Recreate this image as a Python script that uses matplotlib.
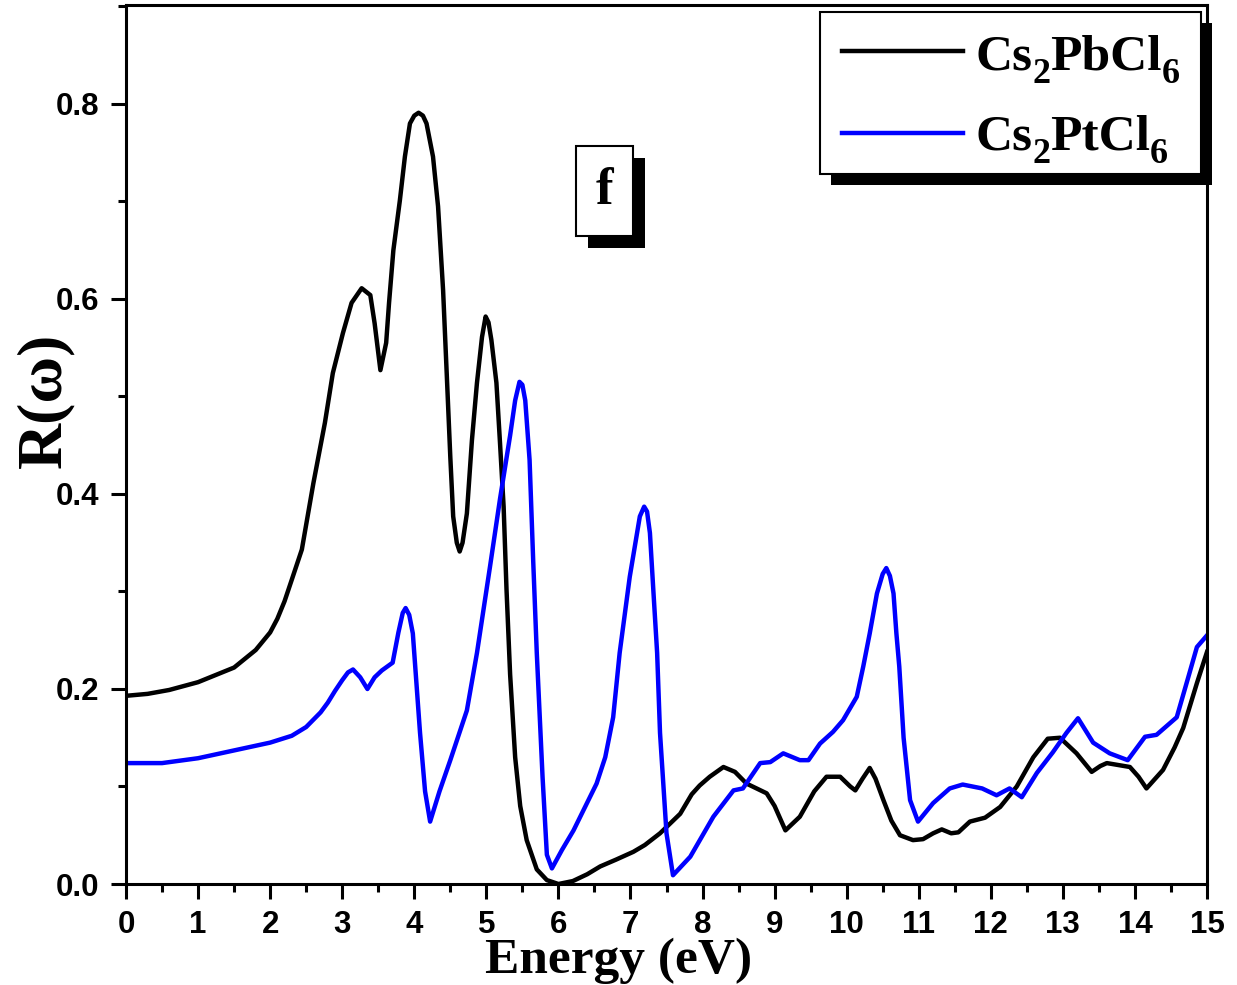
import matplotlib
matplotlib.use("Agg")
import matplotlib.pyplot as plt
from matplotlib.patches import Rectangle
from matplotlib.lines import Line2D
from matplotlib.ticker import MultipleLocator

# reflectivity R(w) vs photon energy
e_pb = [0.0, 0.3, 0.6, 1.0, 1.5, 1.8, 2.0, 2.1, 2.2, 2.3, 2.44, 2.6, 2.76, 2.87, 3.01, 3.13,
        3.27, 3.39, 3.45, 3.53, 3.61, 3.65, 3.71, 3.8, 3.87, 3.94, 4.0, 4.06, 4.12, 4.17,
        4.26, 4.33, 4.4, 4.45, 4.5, 4.54, 4.59, 4.63, 4.67, 4.73, 4.8, 4.87, 4.94, 4.99,
        5.03, 5.07, 5.14, 5.19, 5.24, 5.28, 5.33, 5.4, 5.47, 5.56, 5.7, 5.84, 6.0, 6.2,
        6.4, 6.58, 6.8, 7.04, 7.2, 7.41, 7.69, 7.85, 7.96, 8.1, 8.29, 8.45, 8.61, 8.75,
        8.89, 9.0, 9.15, 9.35, 9.55, 9.72, 9.91, 10.05, 10.12, 10.22, 10.32, 10.4, 10.51,
        10.62, 10.74, 10.92, 11.06, 11.2, 11.32, 11.45, 11.55, 11.71, 11.92, 12.13, 12.36,
        12.59, 12.79, 12.96, 13.19, 13.4, 13.52, 13.61, 13.93, 14.05, 14.16, 14.39, 14.55,
        14.67, 14.86, 15.0]
r_pb = [0.193, 0.195, 0.199, 0.207, 0.222, 0.240, 0.258, 0.272, 0.290, 0.312, 0.343, 0.411,
        0.473, 0.524, 0.565, 0.596, 0.611, 0.604, 0.575, 0.527, 0.555, 0.596, 0.650, 0.701,
        0.746, 0.780, 0.788, 0.791, 0.788, 0.780, 0.746, 0.695, 0.609, 0.524, 0.438, 0.377,
        0.350, 0.341, 0.350, 0.380, 0.455, 0.514, 0.561, 0.582, 0.576, 0.558, 0.514, 0.452,
        0.387, 0.302, 0.215, 0.130, 0.080, 0.045, 0.015, 0.004, 0.000, 0.003, 0.010, 0.018,
        0.025, 0.033, 0.040, 0.052, 0.072, 0.092, 0.101, 0.110, 0.120, 0.115, 0.103, 0.098,
        0.093, 0.080, 0.055, 0.069, 0.095, 0.110, 0.110, 0.100, 0.096, 0.108, 0.119, 0.108,
        0.086, 0.065, 0.050, 0.045, 0.046, 0.052, 0.056, 0.052, 0.053, 0.064, 0.068, 0.079,
        0.100, 0.130, 0.149, 0.150, 0.134, 0.115, 0.121, 0.124, 0.120, 0.110, 0.098, 0.117,
        0.140, 0.160, 0.206, 0.238]

e_pt = [0.0, 0.5, 1.0, 1.5, 2.0, 2.3, 2.5, 2.7, 2.8, 2.9, 3.0, 3.08, 3.15, 3.25, 3.35, 3.45,
        3.55, 3.7, 3.78, 3.84, 3.88, 3.93, 3.98, 4.08, 4.15, 4.22, 4.35, 4.5, 4.73, 4.87,
        5.05, 5.19, 5.33, 5.4, 5.46, 5.5, 5.54, 5.6, 5.65, 5.7, 5.78, 5.84, 5.91, 6.05,
        6.21, 6.53, 6.65, 6.76, 6.85, 6.99, 7.13, 7.19, 7.23, 7.27, 7.32, 7.37, 7.41, 7.5,
        7.59, 7.83, 8.15, 8.43, 8.56, 8.8, 8.94, 9.12, 9.35, 9.47, 9.63, 9.81, 9.95, 10.14,
        10.23, 10.32, 10.42, 10.5, 10.55, 10.6, 10.65, 10.69, 10.73, 10.79, 10.88, 10.99,
        11.2, 11.43, 11.61, 11.88, 12.08, 12.26, 12.43, 12.64, 12.86, 13.05, 13.21, 13.42,
        13.65, 13.9, 14.14, 14.3, 14.58, 14.74, 14.86, 15.0]
r_pt = [0.124, 0.124, 0.129, 0.137, 0.145, 0.152, 0.161, 0.176, 0.186, 0.198, 0.209, 0.217,
        0.220, 0.212, 0.200, 0.212, 0.219, 0.227, 0.258, 0.278, 0.283, 0.276, 0.257, 0.155,
        0.095, 0.064, 0.095, 0.127, 0.178, 0.237, 0.325, 0.395, 0.460, 0.496, 0.515, 0.512,
        0.496, 0.435, 0.332, 0.237, 0.110, 0.030, 0.016, 0.035, 0.055, 0.103, 0.130, 0.171,
        0.237, 0.315, 0.377, 0.387, 0.382, 0.360, 0.298, 0.237, 0.155, 0.052, 0.009, 0.028,
        0.069, 0.096, 0.098, 0.124, 0.125, 0.134, 0.127, 0.127, 0.144, 0.156, 0.168, 0.192,
        0.223, 0.257, 0.298, 0.318, 0.324, 0.316, 0.298, 0.257, 0.223, 0.150, 0.086, 0.064,
        0.083, 0.098, 0.102, 0.098, 0.091, 0.098, 0.089, 0.114, 0.135, 0.155, 0.170, 0.145,
        0.134, 0.127, 0.151, 0.153, 0.171, 0.212, 0.243, 0.255]

# formula pieces: (text, is_subscript)
labels = [[("Cs", 0), ("2", 1), ("PbCl", 0), ("6", 1)],
          [("Cs", 0), ("2", 1), ("PtCl", 0), ("6", 1)]]
colors = ["black", "#0000ff"]

W, H = 1237, 985
fig = plt.figure(figsize=(W / 100, H / 100), dpi=100)
ax = fig.add_axes([126 / W, 1 - 884 / H, (1207 - 126) / W, (884 - 5) / H])

ax.plot(e_pb, r_pb, color=colors[0], lw=3.2, solid_joinstyle="round")
ax.plot(e_pt, r_pt, color=colors[1], lw=3.2, solid_joinstyle="round")

ax.set_xlim(0, 15)
ax.set_ylim(0, 0.9015)
ax.xaxis.set_major_locator(MultipleLocator(1))
ax.xaxis.set_minor_locator(MultipleLocator(0.5))
ax.yaxis.set_major_locator(MultipleLocator(0.2))
ax.yaxis.set_minor_locator(MultipleLocator(0.1))
ax.yaxis.set_major_formatter(plt.FuncFormatter(lambda v, p: f"{v:.1f}"))
for s in ax.spines.values():
    s.set_linewidth(2.2)
ax.tick_params(which="major", direction="out", length=11, width=2.2, pad=8)
ax.tick_params(which="minor", direction="out", length=6, width=2.2)
for t in ax.get_xticklabels() + ax.get_yticklabels():
    t.set_fontfamily("Liberation Sans")
    t.set_fontweight("bold")
    t.set_fontsize(22.5)

# axis titles in a serif face
fig.text(45 / W, 1 - 400 / H, "R(ω)", rotation=90, ha="center", va="center",
         fontsize=46, fontweight="bold", family="Liberation Serif")
fig.text(619 / W, 1 - 973 / H, "Energy (eV)", ha="center", va="baseline",
         fontsize=37, fontweight="bold", family="Liberation Serif")


def shadow_box(x0, y0, x1, y1, off):
    # box given in pixel coords from top-left, black drop shadow down-right
    sh = Rectangle(((x0 + off) / W, 1 - (y1 + off) / H), (x1 - x0) / W, (y1 - y0) / H,
                   transform=fig.transFigure, facecolor="black", edgecolor="none", zorder=5)
    bx = Rectangle((x0 / W, 1 - y1 / H), (x1 - x0) / W, (y1 - y0) / H,
                   transform=fig.transFigure, facecolor="white", edgecolor="black",
                   lw=1.5, zorder=6)
    fig.add_artist(sh)
    fig.add_artist(bx)


def formula(x, base, pieces):
    # lay out chemical formula piece by piece, subscripts lowered
    rend = fig.canvas.get_renderer()
    for txt, sub in pieces:
        y = base + (14 if sub else 0)
        t = fig.text(x / W, 1 - y / H, txt, ha="left", va="baseline", zorder=7,
                     fontsize=26 if sub else 37, fontweight="bold", family="Liberation Serif")
        x += t.get_window_extent(rend).width


# legend
shadow_box(820, 12, 1201, 174, 11)
for i, (yy, base) in enumerate([(51, 69), (133, 149)]):
    fig.add_artist(Line2D([842 / W, 963 / W], [1 - yy / H, 1 - yy / H], transform=fig.transFigure,
                          color=colors[i], lw=3.2, zorder=7))
    formula(975, base, labels[i])

# panel letter
shadow_box(576, 146, 633, 236, 12)
fig.text(604 / W, 1 - 191 / H, "f", ha="center", va="center", fontsize=38,
         fontweight="bold", family="Liberation Serif", zorder=7)

fig.savefig("out.png", dpi=100)
